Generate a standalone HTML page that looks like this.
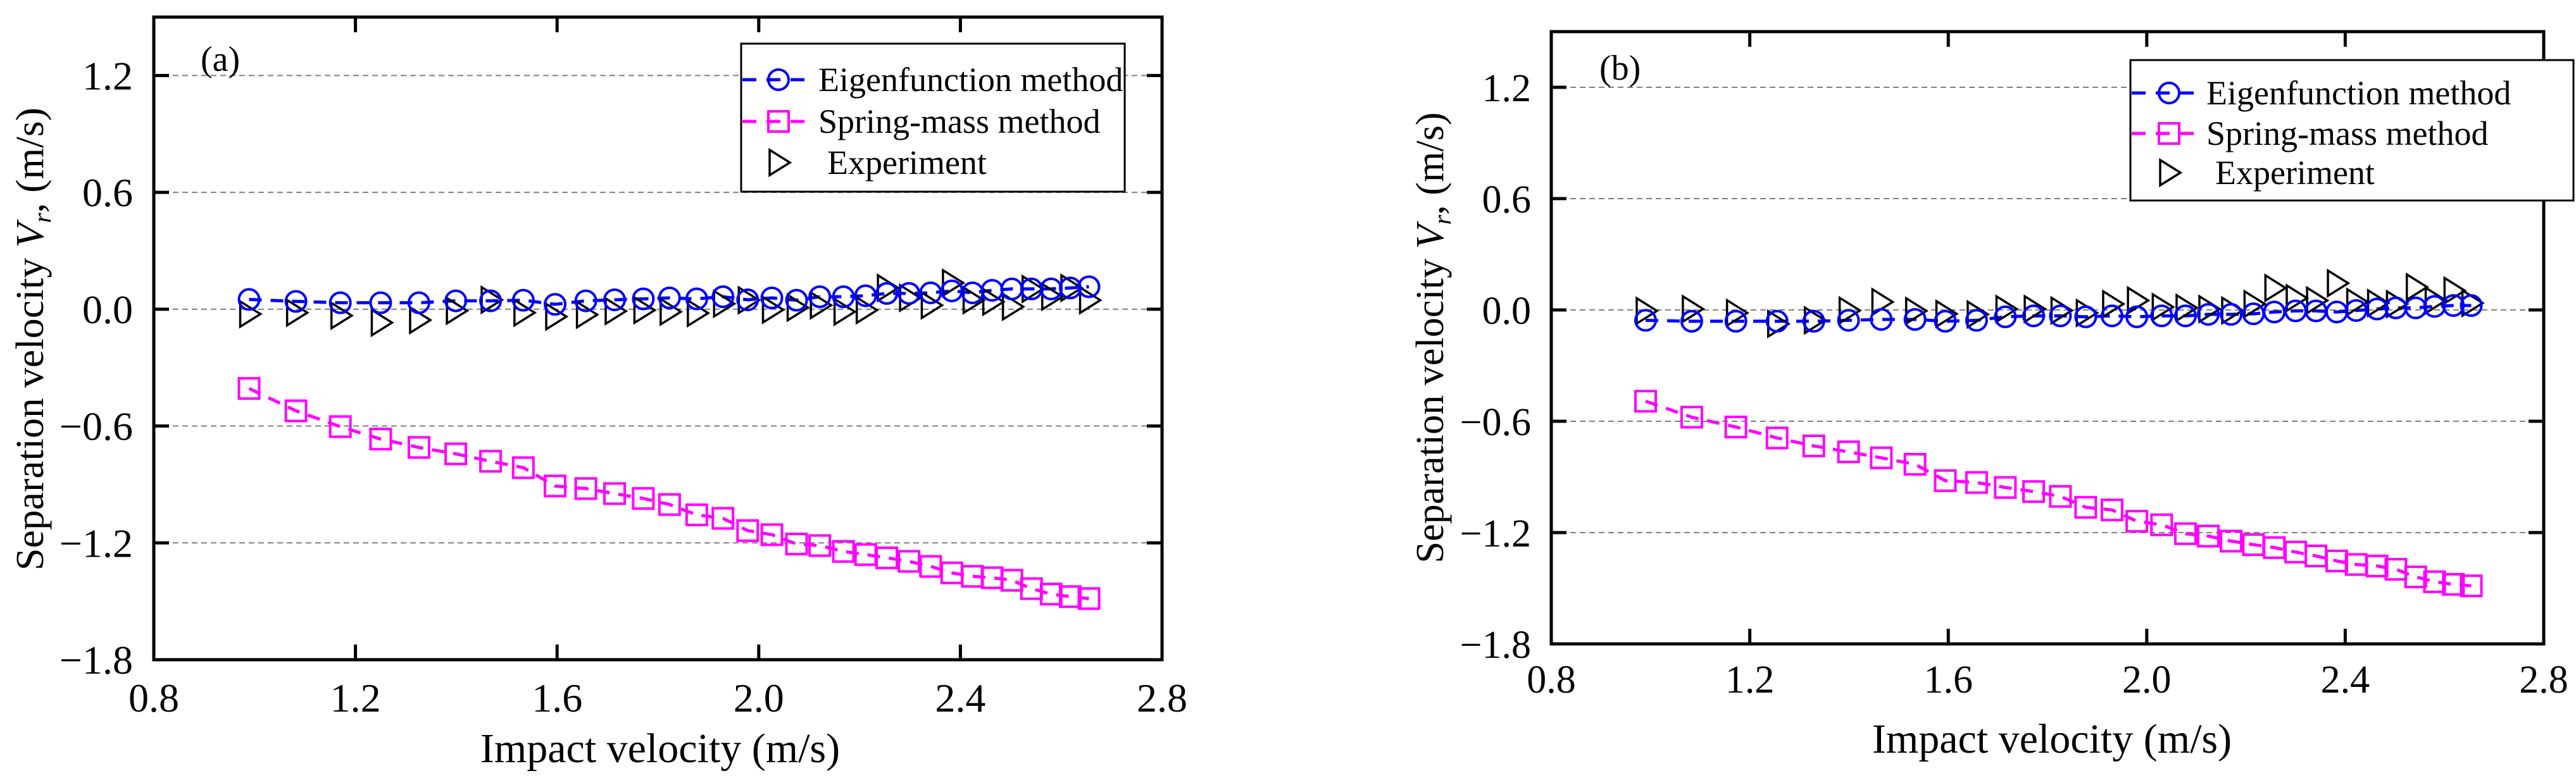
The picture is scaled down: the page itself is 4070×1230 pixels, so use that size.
<!DOCTYPE html>
<html><head><meta charset="utf-8"><style>html,body{margin:0;padding:0;background:#fff}svg{display:block}svg text{font-family:"Liberation Serif","Times New Roman",serif}</style></head>
<body>
<svg id="fig" width="4070" height="1230" viewBox="0 0 4070 1230" xmlns="http://www.w3.org/2000/svg" font-family="Liberation Serif, serif"></svg>
<script>
const impactA = [0.989,1.082,1.170,1.250,1.326,1.399,1.468,1.533,1.596,1.657,1.714,1.771,1.823,1.877,1.929,1.978,2.026,2.075,2.121,2.168,2.212,2.254,2.298,2.341,2.383,2.424,2.463,2.502,2.541,2.580,2.618,2.655];
const eigenA = [0.050,0.040,0.033,0.033,0.033,0.043,0.043,0.046,0.025,0.043,0.048,0.053,0.058,0.053,0.064,0.048,0.058,0.046,0.064,0.064,0.069,0.081,0.081,0.084,0.094,0.084,0.097,0.104,0.104,0.104,0.109,0.115];
const springA = [-0.407,-0.522,-0.603,-0.667,-0.710,-0.743,-0.781,-0.814,-0.908,-0.921,-0.947,-0.972,-1.003,-1.056,-1.074,-1.137,-1.158,-1.206,-1.214,-1.244,-1.260,-1.277,-1.295,-1.321,-1.354,-1.372,-1.379,-1.392,-1.435,-1.463,-1.476,-1.486];
const expA = [-0.025,-0.018,-0.033,-0.069,-0.056,-0.008,0.048,-0.018,-0.038,-0.028,-0.010,-0.005,-0.013,-0.020,0.028,0.046,-0.003,0.008,0.020,-0.013,-0.005,0.109,0.058,0.020,0.135,0.046,0.038,0.013,0.104,0.064,0.109,0.046];
const impactB = [0.990,1.083,1.172,1.255,1.329,1.399,1.465,1.533,1.594,1.657,1.715,1.772,1.826,1.877,1.930,1.980,2.030,2.078,2.124,2.170,2.215,2.257,2.300,2.341,2.383,2.422,2.464,2.502,2.542,2.580,2.618,2.654];
const eigenB = [-0.056,-0.061,-0.061,-0.061,-0.061,-0.056,-0.051,-0.051,-0.061,-0.056,-0.037,-0.032,-0.032,-0.037,-0.032,-0.037,-0.032,-0.032,-0.024,-0.024,-0.021,-0.011,-0.005,-0.005,-0.011,-0.003,0.005,0.011,0.011,0.019,0.024,0.024];
const springB = [-0.492,-0.578,-0.631,-0.690,-0.733,-0.765,-0.797,-0.832,-0.920,-0.930,-0.957,-0.979,-1.005,-1.064,-1.078,-1.139,-1.158,-1.206,-1.219,-1.246,-1.265,-1.281,-1.305,-1.326,-1.353,-1.372,-1.380,-1.398,-1.439,-1.465,-1.479,-1.487];
const expB = [-0.005,0.005,-0.016,-0.075,-0.056,-0.003,0.043,-0.005,-0.021,-0.024,0.005,0.005,-0.003,-0.016,0.032,0.051,0.016,0.011,0.005,-0.003,0.032,0.118,0.064,0.051,0.144,0.043,0.037,0.032,0.123,0.051,0.104,0.037];
const xTicks = [0.8,1.2,1.6,2.0,2.4,2.8];
const xTickLabels = ["0.8","1.2","1.6","2.0","2.4","2.8"];
const yTicks = [-1.8,-1.2,-0.6,0.0,0.6,1.2];
const yTickLabels = ["\u22121.8","\u22121.2","\u22120.6","0.0","0.6","1.2"];
const yGrid = [-1.2,-0.6,0.0,0.6,1.2];
const legendLabels = ["Eigenfunction method","Spring-mass method","Experiment"];

const NS = "http://www.w3.org/2000/svg";
const FONT = "Liberation Serif, Times New Roman, serif";
const svg = document.getElementById('fig');
function mk(tag, attrs, parent){const e=document.createElementNS(NS,tag);for(const k in attrs)e.setAttribute(k,attrs[k]);(parent||svg).appendChild(e);return e;}
function txt(attrs,parent){attrs['font-family']=FONT;return mk('text',attrs,parent);}

const panels = [
 {id:'a', L:243, R:1836, T:27, B:1043, xs:impactA, eig:eigenA, spr:springA, exp:expA,
  ylx:210, xlb:1125, tf:64, xtitle:[1043,1205], ytitle:[68,536,732], tag:[317,112],
  leg:{x:1171,y:69,w:606,h:234,rows:[126,192,257],mx:1230,tx:1293}},
 {id:'b', L:2451, R:4019, T:50, B:1018, xs:impactB, eig:eigenB, spr:springB, exp:expB,
  ylx:2419, xlb:1095, tf:62, xtitle:[3242,1190], ytitle:[2280,534,713], tag:[2527,126],
  leg:{x:3366,y:95,w:700,h:222,rows:[147,211,273],mx:3427,tx:3486}}
];

function circle(g,cx,cy){const c=mk('circle',{cx:cx,cy:cy,r:16,fill:'none',stroke:'#0000ff','stroke-width':4},g);}
function square(g,cx,cy){const s=mk('rect',{x:cx-16,y:cy-16,width:32,height:32,fill:'none',stroke:'#ff00ff','stroke-width':4},g);}
function tri(g,cx,cy){const t=mk('polygon',{points:`${cx-14},${cy-20} ${cx+18},${cy} ${cx-14},${cy+20}`,fill:'none',stroke:'#000','stroke-width':3.5},g);}

panels.forEach(p=>{
  const sx=v=>p.L+(v-0.8)/2.0*(p.R-p.L);
  const sy=v=>p.B-(v+1.8)/3.3*(p.B-p.T);
  const g=mk('g',{});
  
  
  yGrid.forEach(v=>{const l=mk('line',{x1:p.L,x2:p.R,y1:sy(v),y2:sy(v),stroke:'#808080','stroke-width':2,'stroke-dasharray':'9 6'},g);});
  const line=(arr,col,nm)=>{const pl=mk('polyline',{points:p.xs.map((x,i)=>sx(x)+','+sy(arr[i])).join(' '),fill:'none',stroke:col,'stroke-width':5,'stroke-dasharray':'20 14'},g);};
  line(p.eig,'#0000ff','eigen-line');
  line(p.spr,'#ff00ff','spring-line');
  p.xs.forEach((x,i)=>tri(g,sx(x),sy(p.exp[i])));
  p.xs.forEach((x,i)=>circle(g,sx(x),sy(p.eig[i])));
  p.xs.forEach((x,i)=>square(g,sx(x),sy(p.spr[i])));
  const fr=mk('rect',{x:p.L,y:p.T,width:p.R-p.L,height:p.B-p.T,fill:'none',stroke:'#000','stroke-width':5},g);
  
  xTicks.forEach((v,i)=>{
    const X=sx(v);
    mk('line',{x1:X,x2:X,y1:p.B,y2:p.B-24,stroke:'#000','stroke-width':5},g);
    mk('line',{x1:X,x2:X,y1:p.T,y2:p.T+24,stroke:'#000','stroke-width':5},g);
    const t=txt({x:X,y:p.xlb,'font-size':p.tf,'text-anchor':'middle'},g);t.textContent=xTickLabels[i];
    
  });
  yTicks.forEach((v,i)=>{
    const Y=sy(v);
    mk('line',{x1:p.L,x2:p.L+24,y1:Y,y2:Y,stroke:'#000','stroke-width':5},g);
    mk('line',{x1:p.R,x2:p.R-24,y1:Y,y2:Y,stroke:'#000','stroke-width':5},g);
    const t=txt({x:p.ylx,y:Y+22,'font-size':p.tf,'text-anchor':'end'},g);t.textContent=yTickLabels[i];
    
  });
  const xt=txt({x:p.xtitle[0],y:p.xtitle[1],'font-size':66,'text-anchor':'middle'},g);xt.textContent='Impact velocity (m/s)';
  
  const yt=txt({x:0,y:0,'font-size':62,'text-anchor':'middle',transform:`translate(${p.ytitle[0]},${p.ytitle[1]}) rotate(-90)`,textLength:p.ytitle[2],lengthAdjust:'spacingAndGlyphs'},g);
  yt.innerHTML='Separation velocity <tspan font-style="italic">V</tspan><tspan font-style="italic" font-size="40" dy="12">r</tspan><tspan dy="-12">,</tspan> (m/s)';
  
  const tg=txt({x:p.tag[0],y:p.tag[1],'font-size':56},g);tg.textContent='('+p.id+')';
  
  const lg=mk('g',{},g);
  const lb=mk('rect',{x:p.leg.x,y:p.leg.y,width:p.leg.w,height:p.leg.h,fill:'#fff',stroke:'#000','stroke-width':3},lg);
  
  const cols=['#0000ff','#ff00ff'];
  [0,1].forEach(k=>{const y=p.leg.rows[k];mk('line',{x1:p.leg.x+2,x2:p.leg.tx-6,y1:y,y2:y,stroke:cols[k],'stroke-width':5,'stroke-dasharray':'22 16'},lg);});
  circle(lg,p.leg.mx,p.leg.rows[0]);
  square(lg,p.leg.mx,p.leg.rows[1]);
  tri(lg,p.leg.mx,p.leg.rows[2]);
  legendLabels.forEach((s,k)=>{const t=txt({x:p.leg.tx+(k==2?14:0),y:p.leg.rows[k]+18,'font-size':54},lg);t.textContent=s;
    });
});
</script>
</body></html>
